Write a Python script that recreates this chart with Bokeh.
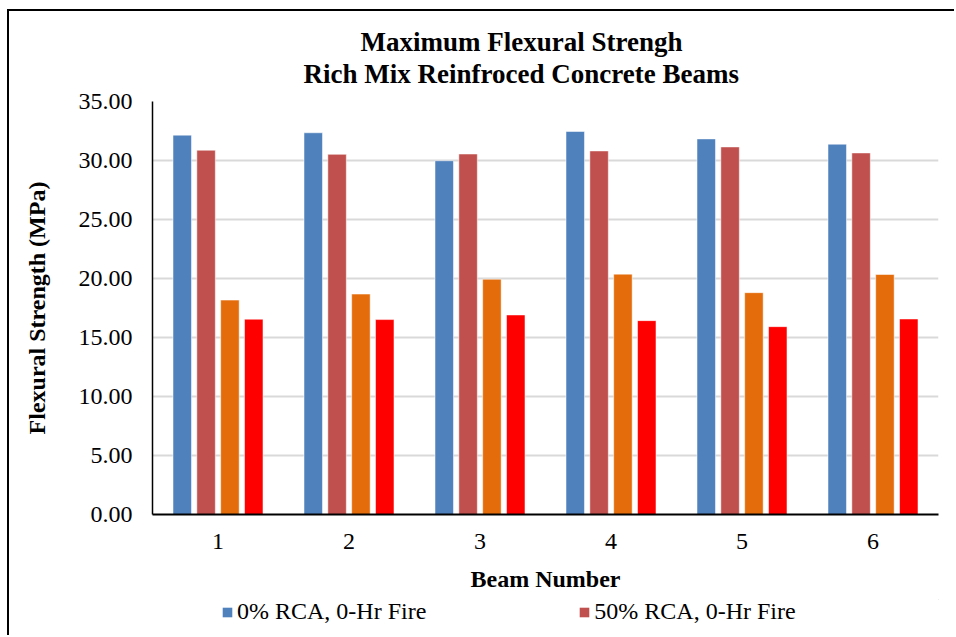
from bokeh.plotting import figure
from bokeh.layouts import column
from bokeh.models import (ColumnDataSource, FactorRange, Range1d, FixedTicker,
                          NumeralTickFormatter, Legend, LegendItem, Title)
from bokeh.transform import dodge
from bokeh.embed import file_html
from bokeh.resources import INLINE

beams = ["1", "2", "3", "4", "5", "6"]
s_0rca = [32.15, 32.35, 29.98, 32.46, 31.83, 31.38]
s_50rca = [30.87, 30.52, 30.55, 30.81, 31.15, 30.64]
s_series3 = [18.17, 18.68, 19.94, 20.37, 18.80, 20.34]
s_series4 = [16.55, 16.52, 16.91, 16.43, 15.92, 16.57]
legend_labels = ["0% RCA, 0-Hr Fire", "50% RCA, 0-Hr Fire"]
title_line1 = "Maximum Flexural Strengh"
title_line2 = "Rich Mix Reinfroced Concrete Beams"
y_ticks = [0, 5, 10, 15, 20, 25, 30, 35]

colors = ["#4F81BD", "#C0504D", "#E46C0A", "#FF0000"]
offsets = [-0.273, -0.091, 0.091, 0.273]

src = ColumnDataSource(dict(beam=beams, a=s_0rca, b=s_50rca, c=s_series3, d=s_series4))

FONT = "Liberation Serif"
W = 945

p = figure(x_range=FactorRange(*beams, range_padding=0), y_range=Range1d(0, 35),
           width=W, height=588, output_backend="svg", toolbar_location=None,
           min_border_left=143, min_border_right=W - 929, min_border_top=10,
           min_border_bottom=85)
p.title = None
p.outline_line_color = None
p.background_fill_color = "white"
p.border_fill_color = "white"

renderers = []
for col, off, c in zip(["a", "b", "c", "d"], offsets, colors):
    r = p.vbar(x=dodge("beam", off, range=p.x_range), top=col, width=0.141,
               source=src, fill_color=c, line_color="white", line_alpha=0.5,
               line_width=1)
    renderers.append(r)

spacer_in = Title(text=" ", text_font_size="1px", standoff=10)
t2 = Title(text=title_line2, align="left", offset=151, text_font=FONT,
           text_font_size="27px", text_font_style="bold", text_color="black",
           standoff=0)
t1 = Title(text=title_line1, align="left", offset=208, text_font=FONT,
           text_font_size="27px", text_font_style="bold", text_color="black",
           standoff=0)
spacer_out = Title(text=" ", text_font_size="1px", standoff=10)
p.add_layout(spacer_in, "above")
p.add_layout(t2, "above")
p.add_layout(t1, "above")
p.add_layout(spacer_out, "above")

p.yaxis.ticker = FixedTicker(ticks=y_ticks)
p.yaxis.formatter = NumeralTickFormatter(format="0.00")
p.yaxis.major_tick_line_color = None
p.yaxis.minor_tick_line_color = None
p.yaxis.axis_line_color = "black"
p.yaxis.axis_line_width = 1.5
p.yaxis.major_label_text_font = FONT
p.yaxis.major_label_text_font_size = "24px"
p.yaxis.major_label_text_color = "black"
p.yaxis.major_label_standoff = 14
p.yaxis.axis_label = "Flexural Strength (MPa)"
p.yaxis.axis_label_text_font = FONT
p.yaxis.axis_label_text_font_size = "24px"
p.yaxis.axis_label_text_font_style = "bold"
p.yaxis.axis_label_text_color = "black"
p.yaxis.axis_label_standoff = 26

p.xaxis.major_tick_line_color = None
p.xaxis.minor_tick_line_color = None
p.xaxis.axis_line_color = "black"
p.xaxis.axis_line_width = 2
p.xaxis.major_label_text_font = FONT
p.xaxis.major_label_text_font_size = "24px"
p.xaxis.major_label_text_color = "black"
p.xaxis.major_label_standoff = 13
p.xaxis.axis_label = "Beam Number"
p.xaxis.axis_label_text_font = FONT
p.xaxis.axis_label_text_font_size = "24px"
p.xaxis.axis_label_text_font_style = "bold"
p.xaxis.axis_label_text_color = "black"
p.xaxis.axis_label_standoff = 14

p.xgrid.grid_line_color = None
p.ygrid.ticker = FixedTicker(ticks=y_ticks)
p.ygrid.grid_line_color = "#D9D9D9"
p.ygrid.grid_line_width = 2

# legend strip below the chart (same series colours)
lf = figure(width=W, height=36, output_backend="svg", toolbar_location=None,
            min_border=0, x_range=Range1d(0, 1), y_range=Range1d(0, 1))
lf.axis.visible = False
lf.grid.visible = False
lf.outline_line_color = None
lf.title = None
dummies = [lf.vbar(x=[5], top=[5], bottom=[4], width=0.1, fill_color=c,
                   line_color=None) for c in colors[:2]]
legend = Legend(items=[LegendItem(label=legend_labels[0], renderers=[dummies[0]]),
                       LegendItem(label=legend_labels[1], renderers=[dummies[1]])],
                orientation="horizontal", location=(69, 10),
                glyph_width=12, glyph_height=12, label_standoff=4, spacing=152,
                padding=0, margin=0, border_line_color=None,
                background_fill_alpha=0,
                label_text_font=FONT, label_text_font_size="24px",
                label_text_color="black")
lf.add_layout(legend, "center")

layout = column(p, lf, spacing=0)
layout.styles = {"border-left": "2px solid black", "border-top": "2px solid black",
                 "margin-left": "7px", "margin-top": "9px"}

open("out.html", "w").write(file_html(layout, INLINE))
